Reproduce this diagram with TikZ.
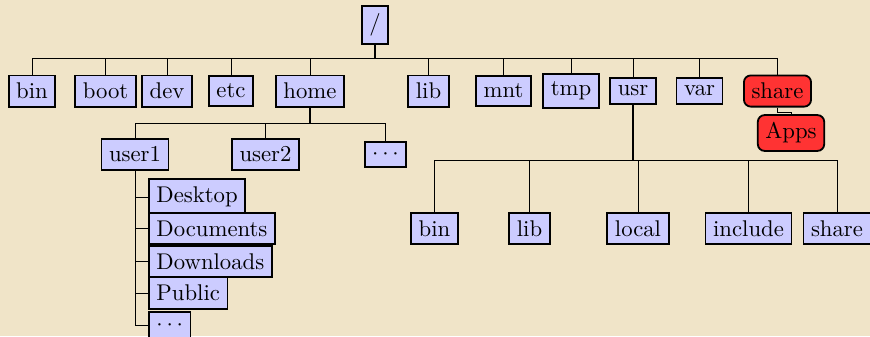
\documentclass[tikz,border=0pt]{standalone}
\definecolor{bg}{RGB}{240,228,200}
\begin{document}
\begin{tikzpicture}[x=0.44pt,y=-0.44pt,
  box/.style={draw,thick,fill=blue!20,inner sep=0.3333em},
  redbox/.style={draw,thick,fill=red!80,rounded corners=3pt,inner sep=0.3333em},
  conn/.style={draw,line width=0.4pt},
  stub/.style={draw,line width=0.8pt}]
\fill[bg] (0,0) rectangle (870,336);
\useasboundingbox (0,0) rectangle (870,336);
% root
\node[box] (root) at (375,25) {/};
% level 1
\node[box] (bin)  at (32,91)    {bin};
\node[box] (boot) at (105.5,91) {boot};
\node[box] (dev)  at (167,91)   {dev};
\node[box] (etc)  at (231,91)   {etc};
\node[box] (home) at (310,91)   {home};
\node[box] (lib)  at (428.5,91) {lib};
\node[box] (mnt)  at (503.5,91) {mnt};
\node[box] (tmp)  at (571,91)   {tmp};
\node[box] (usr)  at (633,91)   {usr};
\node[box] (var)  at (699.5,91) {var};
\node[redbox] (share) at (777.5,91) {share};
\node[redbox] (apps) at (791,133) {Apps};
% home children
\node[box] (user1) at (135,154.5)   {user1};
\node[box] (user2) at (265.5,154.5) {user2};
\node[box] (hdots) at (385.5,154.5) {$\cdots$};
% user1 children
\node[box,anchor=west] (desk) at (148,197)   {Desktop};
\node[box,anchor=west] (docs) at (148,228.5) {Documents};
\node[box,anchor=west] (down) at (148,261.5) {Downloads};
\node[box,anchor=west] (pub)  at (148,293)   {Public};
\node[box,anchor=west] (udots) at (148,325)  {$\cdots$};
% usr children
\node[box] (ubin)   at (434.5,228.5) {bin};
\node[box] (ulib)   at (529.5,228.5) {lib};
\node[box] (ulocal) at (638,228.5)   {local};
\node[box] (uinc)   at (748.5,228.5) {include};
\node[box] (ushare) at (837,228.5)   {share};
% connector bars
\coordinate (rb) at (375,58);
\coordinate (hb) at (310,123);
\coordinate (ub) at (633,160);
\coordinate (sb) at (777.5,112);
\draw[stub] (root.south) -- (rb);
\draw[stub] (home.south) -- (hb);
\draw[stub] (usr.south) -- (ub);
\foreach \c in {bin,boot,dev,etc,home,lib,mnt,tmp,usr,var,share}
  \draw[conn] (rb) -| (\c.north);
\foreach \c in {user1,user2,hdots}
  \draw[conn] (hb) -| (\c.north);
\foreach \c in {ubin,ulib,ulocal,uinc,ushare}
  \draw[conn] (ub) -| (\c.north);
\draw[conn] (share.south) -- (sb) -| (apps.north);
\foreach \c in {desk,docs,down,pub,udots}
  \draw[conn] (user1.south) |- (\c.west);
\end{tikzpicture}
\end{document}
